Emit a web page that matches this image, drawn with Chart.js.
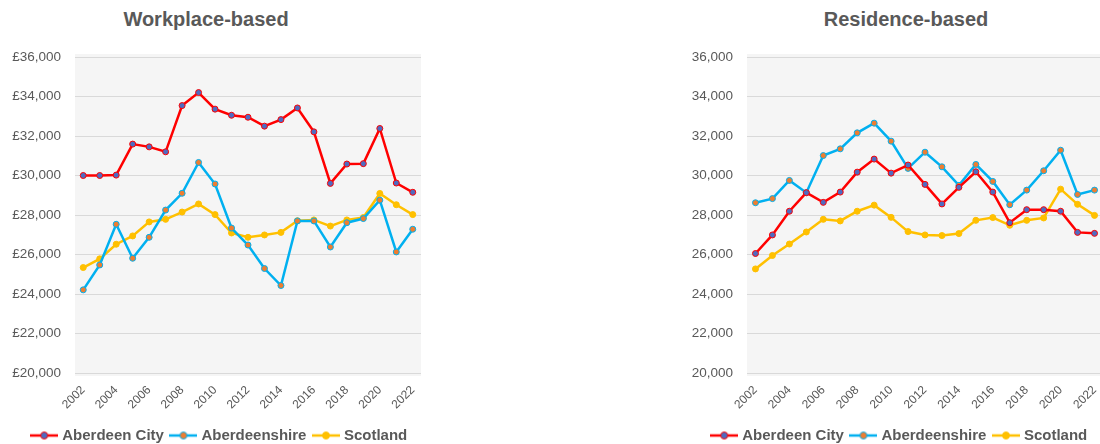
<!DOCTYPE html>
<html>
<head>
<meta charset="utf-8">
<script src="https://cdn.jsdelivr.net/npm/chart.js@4"></script>
<style>
  html, body { margin: 0; padding: 0; background: #fff; width: 1100px; height: 444px; overflow: hidden; position: relative; }
  .box { position: absolute; top: 0; height: 453px; }
  .ttl { position: absolute; top: 8px; font: bold 20px "Liberation Sans", Arial, sans-serif; color: #595959; transform: translateX(-50%); white-space: nowrap; }
</style>
</head>
<body>
<div class="ttl" style="left:206px">Workplace-based</div>
<div class="ttl" style="left:906px">Residence-based</div>
<div class="box" style="left:0;width:440px"><canvas id="work"></canvas></div>
<div class="box" style="left:690px;width:420px"><canvas id="res"></canvas></div>
<script>
const years = ["2002","2003","2004","2005","2006","2007","2008","2009","2010","2011","2012",
               "2013","2014","2015","2016","2017","2018","2019","2020","2021","2022"];

// workplace-based
const workCity  = [30000,30000,30020,31590,31450,31200,33540,34200,33360,33050,32950,
                   32500,32830,33420,32210,29600,30580,30600,32380,29620,29150];
const workShire = [24210,25470,27530,25810,26870,28250,29100,30660,29570,27340,26480,
                   25290,24430,27700,27700,26380,27610,27820,28750,26130,27280];
const workScot  = [25340,25780,26520,26940,27650,27780,28150,28560,28020,27090,26870,
                   26990,27120,27710,27750,27440,27750,27870,29090,28520,28020];

// residence-based
const resCity  = [26050,26990,28190,29130,28640,29160,30170,30830,30120,30530,29550,
                  28560,29400,30190,29160,27610,28270,28270,28190,27120,27070];
const resShire = [28620,28830,29750,29130,31010,31350,32160,32650,31740,30360,31180,
                  30440,29500,30560,29700,28520,29260,30240,31280,29040,29260];
const resScot  = [25270,25950,26530,27140,27780,27700,28190,28500,27880,27160,26990,
                  26960,27060,27730,27870,27480,27730,27850,29310,28540,27980];

const seriesNames = ["Aberdeen City", "Aberdeenshire", "Scotland"];
const lineColors = ["#FF0000", "#00B0F0", "#FFC000"];
const dotColors = ["#4F6BC0", "#ED7D31", "#FFC000"];

const yMin = 20000, yMax = 36000, yStep = 2000;
const txt = "#595959";
const fam = '"Liberation Sans", Arial, sans-serif';

function legendMark(i) {
  const c = document.createElement("canvas");
  c.width = 28; c.height = 10;
  const g = c.getContext("2d");
  g.strokeStyle = lineColors[i];
  g.lineWidth = 2.5;
  g.beginPath(); g.moveTo(0, 5); g.lineTo(28, 5); g.stroke();
  g.fillStyle = dotColors[i];
  g.strokeStyle = lineColors[i];
  g.lineWidth = 1;
  g.beginPath(); g.arc(14, 5, 3.5, 0, Math.PI * 2); g.fill(); g.stroke();
  return c;
}
const marks = [0, 1, 2].map(legendMark);

const plotBg = {
  id: "plotBg",
  beforeDraw(chart) {
    const a = chart.chartArea, ctx = chart.ctx;
    ctx.save();
    ctx.fillStyle = "#F5F5F5";
    ctx.fillRect(a.left, a.top - 3, a.right - a.left, a.bottom - a.top + 6);
    ctx.restore();
  }
};

// nudge the legend row sideways so it sits where the original one does
const legendShift = {
  id: "legendShift",
  afterLayout(chart, args, opts) {
    if (chart.legend) {
      chart.legend.left += opts.dx;
      chart.legend.right += opts.dx;
    }
  }
};

function makeChart(id, vals, prefix, yWidth, padRight, dx) {
  new Chart(document.getElementById(id), {
    type: "line",
    data: {
      labels: years,
      datasets: vals.map((v, i) => ({
        label: seriesNames[i],
        data: v,
        borderColor: lineColors[i],
        backgroundColor: dotColors[i],
        borderWidth: 2.5,
        tension: 0,
        pointRadius: 3,
        pointBorderWidth: 1,
        pointBackgroundColor: dotColors[i],
        pointBorderColor: lineColors[i]
      }))
    },
    options: {
      responsive: true,
      maintainAspectRatio: false,
      animation: false,
      layout: { padding: { top: 57, right: padRight, left: 0, bottom: 0 } },
      scales: {
        x: {
          offset: true,
          grid: { display: false, offset: true },
          border: { display: false },
          ticks: {
            color: txt,
            font: { family: fam, size: 12 },
            autoSkip: false,
            maxRotation: 45,
            minRotation: 45,
            padding: 2,
            callback: (v, i) => (i % 2 === 0 ? years[i] : "")
          },
          afterFit: s => { s.height = 46; }
        },
        y: {
          min: yMin,
          max: yMax,
          grid: { color: "#D9D9D9", lineWidth: 1, drawTicks: false },
          border: { display: false },
          ticks: {
            stepSize: yStep,
            padding: 14,
            color: txt,
            font: { family: fam, size: 13.5 },
            callback: v => prefix + v.toLocaleString("en-GB")
          },
          afterFit: s => { s.width = yWidth; }
        }
      },
      plugins: {
        tooltip: { enabled: false },
        legendShift: { dx: dx },
        legend: {
          position: "bottom",
          labels: {
            color: txt,
            font: { family: fam, size: 15, weight: "bold" },
            usePointStyle: true,
            pointStyleWidth: 21,
            padding: 9,
            generateLabels: chart =>
              Chart.defaults.plugins.legend.labels.generateLabels(chart).map((l, i) =>
                Object.assign(l, { pointStyle: marks[i] }))
          }
        }
      }
    },
    plugins: [plotBg, legendShift]
  });
}

makeChart("work", [workCity, workShire, workScot], "£", 75, 19, 10);
makeChart("res", [resCity, resShire, resScot], "", 57, 7, 4);
</script>
</body>
</html>
